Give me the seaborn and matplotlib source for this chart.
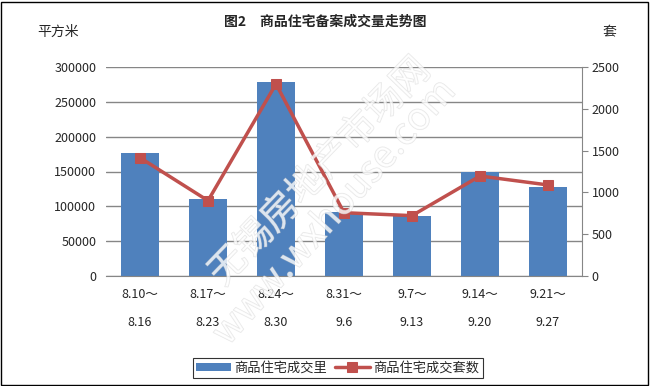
import numpy as np
import pandas as pd
import matplotlib
matplotlib.use('Agg')
import matplotlib.pyplot as plt
import matplotlib.patheffects as pe
from matplotlib.patches import Rectangle
import seaborn as sns

# data
period_start = ['8.10～', '8.17～', '8.24～', '8.31～', '9.7～', '9.14～', '9.21～']
period_end = ['8.16', '8.23', '8.30', '9.6', '9.13', '9.20', '9.27']
area_sqm = [176000, 110000, 278000, 92000, 86000, 150000, 128000]
units_sold = [1415, 901, 2297, 757, 722, 1196, 1089]
area_ticks = [0, 50000, 100000, 150000, 200000, 250000, 300000]
unit_ticks = [0, 500, 1000, 1500, 2000, 2500]

sns.set_style('white')
plt.rcParams['font.family'] = ['Noto Sans CJK SC', 'DejaVu Sans']

bar_color = '#4F81BD'
line_color = '#C0504D'
grid_color = '#868686'

df = pd.DataFrame({'period': [f'{s}\n\n{e}' for s, e in zip(period_start, period_end)],
                   'area': area_sqm, 'units': units_sold})
df['pos'] = np.arange(len(df))

fig = plt.figure(figsize=(6.5, 3.86), dpi=100)
ax = fig.add_axes([106 / 650, 1 - 276 / 386, 476 / 650, 209 / 386])

sns.barplot(data=df, x='period', y='area', color=bar_color, saturation=1,
            width=0.56, ax=ax, label='商品住宅成交里', zorder=2, linewidth=0)
ax.set_ylim(0, 300000)
ax.set_yticks(area_ticks)
ax.set_yticklabels([str(v) for v in area_ticks])
ax.set_xlim(-0.5, len(df) - 0.5)
ax.yaxis.grid(True, color=grid_color, lw=1)
ax.set_axisbelow(True)
ax.set_xlabel('')
ax.set_ylabel('')
for s in ['left', 'top', 'right']:
    ax.spines[s].set_visible(False)
ax.spines['bottom'].set_color(grid_color)
ax.tick_params(axis='y', length=0, pad=7, labelsize=9)
ax.tick_params(axis='x', length=0, pad=9, labelsize=9)
for t in ax.get_xticklabels():
    t.set_linespacing(1.05)

ax2 = ax.twinx()
sns.lineplot(data=df, x='pos', y='units', ax=ax2, color=line_color, lw=2.5,
             marker='s', markersize=7, markeredgecolor=line_color,
             label='商品住宅成交套数', zorder=3)
ax2.set_ylim(0, 2500)
ax2.set_yticks(unit_ticks)
ax2.set_ylabel('')
ax2.set_xlabel('')
for s in ['left', 'top', 'bottom']:
    ax2.spines[s].set_visible(False)
ax2.spines['right'].set_color(grid_color)
ax2.tick_params(axis='y', direction='out', length=4, color=grid_color, pad=3, labelsize=9)
ax2.get_legend().remove()

# titles and axis units
fig.text(0.5, 1 - 22 / 386, '图2　商品住宅备案成交量走势图', ha='center', va='center',
         fontsize=10, fontweight='bold')
fig.text(58 / 650, 1 - 32 / 386, '平方米', ha='center', va='center', fontsize=10)
fig.text(609 / 650, 1 - 32 / 386, '套', ha='center', va='center', fontsize=10)

# watermark (faint outlined text)
wm = [pe.withStroke(linewidth=0.8, foreground='#d2d2d2')]
fig.text(320 / 650, 1 - 172 / 386, '无锡房地产市场网', ha='center', va='center', rotation=46,
         fontsize=27, color='white', alpha=0.55, path_effects=wm, zorder=10)
fig.text(335 / 650, 1 - 212 / 386, 'www.wxhouse.com', ha='center', va='center', rotation=48,
         fontsize=27, color='white', alpha=0.55, path_effects=wm, zorder=10)

# legend
h1, l1 = ax.get_legend_handles_labels()
h2, l2 = ax2.get_legend_handles_labels()
leg = fig.legend(h1 + h2, l1 + l2, loc='center', bbox_to_anchor=(338 / 650, 1 - 368 / 386),
                 ncol=2, frameon=True, fancybox=False, edgecolor='black', fontsize=9.5,
                 handlelength=2.6, handleheight=0.5, handletextpad=0.3, columnspacing=0.6,
                 borderpad=0.25)
leg.get_frame().set_linewidth(0.8)
if ax.get_legend() is not None:
    ax.get_legend().remove()

# outer border
fig.patches.append(Rectangle((0.002, 0.003), 0.995, 0.993, transform=fig.transFigure,
                             fill=False, edgecolor='black', lw=1))

fig.savefig('out.png', dpi=100)
